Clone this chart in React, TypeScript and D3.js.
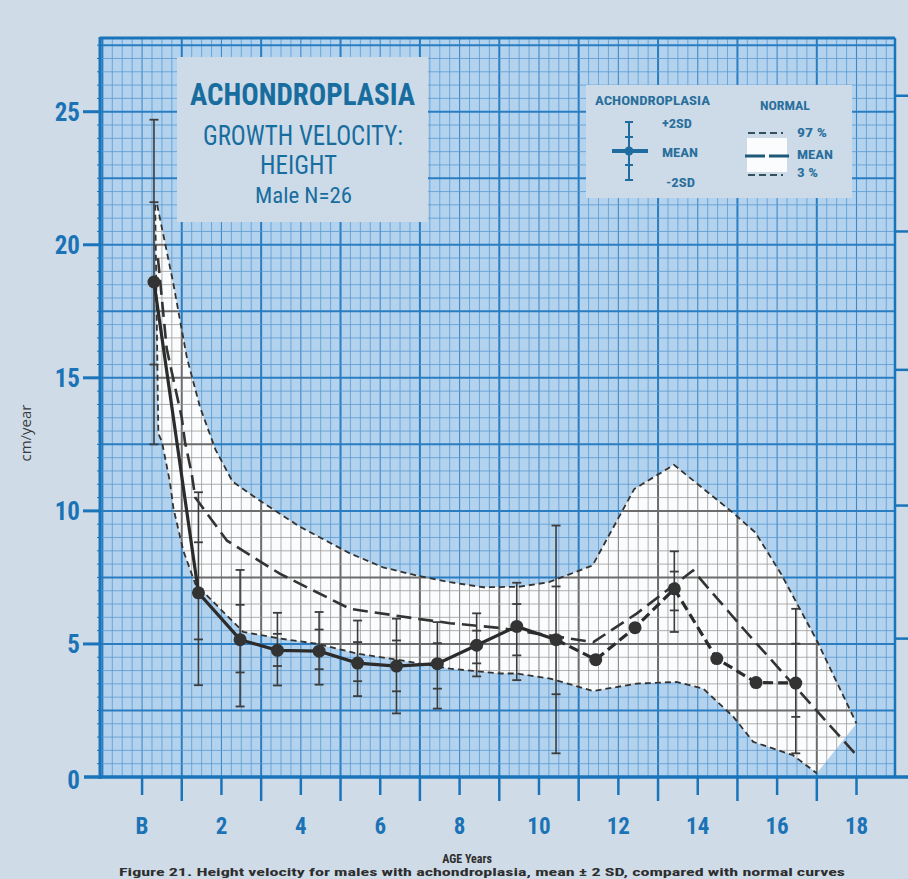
import React from "react";
import * as d3 from "d3";

const W = 908;
const H = 879;

// Achondroplasia (male) growth velocity, cm/year
const achAges = [0.3, 1.42, 2.47, 3.41, 4.46, 5.43, 6.41, 7.44, 8.43, 9.44, 10.43, 11.43, 12.42, 13.41, 14.48, 15.47, 16.47];
const achMean = [18.6, 6.92, 5.16, 4.76, 4.73, 4.28, 4.17, 4.26, 4.95, 5.66, 5.16, 4.41, 5.61, 7.07, 4.45, 3.55, 3.53];
const achPlus2 = [24.7, 10.7, 7.78, 6.17, 6.2, 5.88, 5.95, 5.82, 6.15, 7.3, 9.45, null, null, 8.48, null, null, 6.32];
const achPlus1 = [21.6, 8.82, 6.47, 5.38, 5.54, 5.07, 5.13, 5.03, 5.5, 6.5, 7.16, null, null, 7.72, null, null, 5.01];
const achMinus1 = [15.5, 5.17, 3.93, 4.17, 4.05, 3.6, 3.22, 3.32, 4.27, 4.57, 3.11, null, null, 6.26, null, null, 2.26];
const achMinus2 = [12.5, 3.45, 2.65, 3.44, 3.47, 3.04, 2.39, 2.57, 3.78, 3.64, 0.89, null, null, 5.45, null, null, 0.89];
const solidUntil = 10; // index where the mean line switches to dashed

// Normal curves
const p97Ages = [0.38, 0.78, 1.13, 1.46, 1.85, 2.28, 2.97, 3.98, 5.24, 6.07, 6.92, 7.76, 8.6, 9.5, 10.25, 11.35, 12.4, 13.4, 14.88, 15.45, 16.1, 17.0, 18.0];
const p97Vals = [21.5, 18.6, 15.75, 13.9, 12.3, 11.1, 10.38, 9.4, 8.4, 7.88, 7.57, 7.32, 7.13, 7.15, 7.32, 7.95, 10.82, 11.73, 9.94, 9.19, 7.63, 5.13, 2.01];
const meanAges = [0.4, 0.62, 1.0, 1.08, 1.25, 1.34, 2.14, 3.48, 5.24, 6.92, 7.76, 9.02, 11.37, 12.46, 13.88, 15.15, 18.0];
const meanVals = [19.5, 16.1, 13.5, 12.6, 11.4, 10.5, 8.88, 7.63, 6.32, 5.95, 5.78, 5.6, 5.07, 6.14, 7.76, 5.57, 0.82];
const p3Ages = [0.33, 0.41, 0.5, 0.7, 0.79, 1.04, 1.34, 2.55, 3.48, 4.4, 5.41, 6.5, 7.76, 9.02, 9.44, 10.28, 11.37, 12.46, 13.47, 14.14, 14.9, 15.4, 16.4, 17.0];
const p3Vals = [21.5, 12.9, 12.6, 11.1, 10.1, 8.5, 7.26, 5.45, 5.2, 5.01, 4.64, 4.39, 4.07, 3.89, 3.89, 3.7, 3.23, 3.51, 3.57, 3.32, 2.26, 1.32, 0.82, 0.14];

// Axis labels
const xTickVals = [0, 2, 4, 6, 8, 10, 12, 14, 16, 18];
const xTickLabels = ["B", "2", "4", "6", "8", "10", "12", "14", "16", "18"];
const yTickVals = [0, 5, 10, 15, 20, 25];
const rightTickVals = [25.6, 20.5, 15.3, 10.2, 5.2];

const BLUE_TXT = "#1b73b6";
const TITLE_TXT = "#186d9f";
const COND = "'Liberation Sans Narrow', 'Roboto Condensed', 'Liberation Sans', Arial, sans-serif";

export default function App() {
  const x = d3.scaleLinear().domain([-1.06, 18.97]).range([100, 895]);
  const y = d3.scaleLinear().domain([0, 27.77]).range([777, 38]);

  const X0 = x(-1.06), X1 = x(18.97), Y0 = y(0), Y1 = y(27.77);

  const xs = d3.range(-1, 18.97, 0.25);
  const ys = d3.range(0.5, 27.6, 0.5);

  const isInt = (v: number) => Math.abs(v - Math.round(v)) < 1e-6;

  const gridLines = (inBand: boolean) => {
    const out: any[] = [];
    xs.forEach((v, i) => {
      let w = 0.8, c = inBand ? "#9a9a9a" : "#5c9bd0";
      if (isInt(v)) {
        const odd = Math.abs(Math.round(v)) % 2 === 1;
        w = odd ? 2 : 1.1;
        c = inBand ? (odd ? "#6c6c6c" : "#858585") : (odd ? "#2a7dc0" : "#3f89c6");
      }
      out.push(<line key={"gx" + i} x1={x(v)} x2={x(v)} y1={Y1} y2={Y0} stroke={c} strokeWidth={w} />);
    });
    ys.forEach((v, i) => {
      const major = Math.abs(v / 2.5 - Math.round(v / 2.5)) < 1e-6;
      const w = major ? 2 : 0.8;
      const c = inBand ? (major ? "#6c6c6c" : "#9a9a9a") : (major ? "#2a7dc0" : "#5c9bd0");
      out.push(<line key={"gy" + i} x1={X0} x2={X1} y1={y(v)} y2={y(v)} stroke={c} strokeWidth={w} />);
    });
    return out;
  };

  const straight = d3.line<[number, number]>().x(d => x(d[0])).y(d => y(d[1]));

  const p97Pts = p97Ages.map((a, i) => [a, p97Vals[i]] as [number, number]);
  const p3Pts = p3Ages.map((a, i) => [a, p3Vals[i]] as [number, number]);
  const meanPts = meanAges.map((a, i) => [a, meanVals[i]] as [number, number]);

  const bandPath =
    (straight(p97Pts) as string) +
    "L" + (straight([...p3Pts].reverse()) as string).slice(1) + "Z";

  const achPts = achAges.map((a, i) => [a, achMean[i]] as [number, number]);
  const solidPts = achPts.slice(0, solidUntil + 1);
  const dashPts = achPts.slice(solidUntil);

  const cap = 4.5;

  return (
    <svg width={W} height={H} style={{ position: "absolute", left: 0, top: 0 }} xmlns="http://www.w3.org/2000/svg">
      <defs>
        <clipPath id="bandClip">
          <path d={bandPath} />
        </clipPath>
        <clipPath id="plotClip">
          <rect x={X0} y={Y1} width={X1 - X0} height={Y0 - Y1} />
        </clipPath>
      </defs>
      <rect x={0} y={0} width={W} height={H} fill="#cfdce8" />
      <rect x={X0} y={Y1} width={X1 - X0} height={Y0 - Y1} fill="#b2d2ee" />
      <g clipPath="url(#plotClip)">{gridLines(false)}</g>

      {/* white normal band */}
      <path d={bandPath} fill="#fbfcfd" />
      <g clipPath="url(#bandClip)">{gridLines(true)}</g>

      {/* title and legend boxes */}
      <rect x={177} y={57} width={251} height={165} fill="#cddbe8" />
      <rect x={586} y={85} width={266} height={113} fill="#cddbe8" />

      {/* frame */}
      <line x1={X0} x2={X0} y1={Y1 - 1} y2={Y0 + 2} stroke="#1a74ba" strokeWidth={3} />
      <line x1={X0} x2={X1} y1={Y1} y2={Y1} stroke="#1a74ba" strokeWidth={3} />
      <line x1={X1} x2={X1} y1={Y1} y2={Y0} stroke="#1a74ba" strokeWidth={2.5} />
      <line x1={84} x2={W} y1={Y0} y2={Y0} stroke="#1a74ba" strokeWidth={3.5} />

      {/* y ticks */}
      {ys.map((v, i) => (
        <line key={"ym" + i} x1={X0 - 3} x2={X0} y1={y(v)} y2={y(v)} stroke="#1a74ba" strokeWidth={1} />
      ))}
      {yTickVals.filter(v => v > 0).map(v => (
        <line key={"yt" + v} x1={83} x2={X0} y1={y(v)} y2={y(v)} stroke="#1a74ba" strokeWidth={3} />
      ))}
      {rightTickVals.map(v => (
        <line key={"rt" + v} x1={X1} x2={W} y1={y(v)} y2={y(v)} stroke="#1a74ba" strokeWidth={2.5} />
      ))}
      {yTickVals.map(v => (
        <text key={"yl" + v} x={80} y={y(v) + (v === 0 ? 12 : 9)} textAnchor="end" fontFamily={COND}
          fontWeight="bold" fontSize={25} fill={BLUE_TXT}>{v}</text>
      ))}

      {/* x ticks */}
      {d3.range(0, 19, 1).map(v => (
        <line key={"xt" + v} x1={x(v)} x2={x(v)} y1={Y0} y2={Y0 + (v % 2 === 1 ? 24 : 18)}
          stroke="#1a74ba" strokeWidth={2.5} />
      ))}
      {xTickVals.map((v, i) => (
        <text key={"xl" + v} x={x(v)} y={834} textAnchor="middle" fontFamily={COND}
          fontWeight="bold" fontSize={23} fill={BLUE_TXT}>{xTickLabels[i]}</text>
      ))}

      {/* normal curves */}
      <path d={straight(p97Pts) as string} fill="none" stroke="#333" strokeWidth={1.8} strokeDasharray="6,4" />
      <path d={straight(p3Pts) as string} fill="none" stroke="#333" strokeWidth={1.8} strokeDasharray="6,4" />
      <path d={straight(meanPts) as string} fill="none" stroke="#333" strokeWidth={2.6} strokeDasharray="15,7" />

      {/* error bars */}
      {achAges.map((a, i) => {
        if (achPlus2[i] == null) return null;
        const cx = x(a);
        const ticks = [achPlus2[i], achPlus1[i], achMinus1[i], achMinus2[i]] as number[];
        return (
          <g key={"eb" + i} stroke="#3c3c3c">
            <line x1={cx} x2={cx} y1={y(achPlus2[i] as number)} y2={y(achMinus2[i] as number)} strokeWidth={1.6} />
            {ticks.map((t, k) => (
              <line key={k} x1={cx - cap} x2={cx + cap} y1={y(t)} y2={y(t)} strokeWidth={1.8} />
            ))}
          </g>
        );
      })}

      {/* achondroplasia mean */}
      <path d={straight(solidPts) as string} fill="none" stroke="#2b2b2b" strokeWidth={3.2} />
      <path d={straight(dashPts) as string} fill="none" stroke="#2b2b2b" strokeWidth={3.2} strokeDasharray="10,5" />
      {achPts.map((p, i) => (
        <circle key={"pt" + i} cx={x(p[0])} cy={y(p[1])} r={6.5} fill="#333" />
      ))}

      {/* title */}
      <g fontFamily={COND} fill={TITLE_TXT}>
        <text x={190} y={105} fontSize={31} fontWeight="bold" textLength={225} lengthAdjust="spacingAndGlyphs">ACHONDROPLASIA</text>
        <text x={203} y={145} fontSize={27} textLength={200} lengthAdjust="spacingAndGlyphs">GROWTH VELOCITY:</text>
        <text x={260} y={174} fontSize={26} textLength={77} lengthAdjust="spacingAndGlyphs">HEIGHT</text>
        <text x={255} y={203} fontSize={22} textLength={97} lengthAdjust="spacingAndGlyphs">Male N=26</text>
      </g>

      {/* legend */}
      <g fontFamily={COND} fill="#2a6f9c" fontWeight="bold">
        <text x={595} y={105} fontSize={13} textLength={115} lengthAdjust="spacingAndGlyphs">ACHONDROPLASIA</text>
        <text x={760} y={110} fontSize={13} textLength={50} lengthAdjust="spacingAndGlyphs">NORMAL</text>
        <text x={662} y={128} fontSize={12} textLength={30} lengthAdjust="spacingAndGlyphs">+2SD</text>
        <text x={662} y={157} fontSize={12} textLength={36} lengthAdjust="spacingAndGlyphs">MEAN</text>
        <text x={666} y={187} fontSize={12} textLength={29} lengthAdjust="spacingAndGlyphs">-2SD</text>
        <text x={797} y={137} fontSize={12} textLength={30} lengthAdjust="spacingAndGlyphs">97 %</text>
        <text x={797} y={159} fontSize={12} textLength={36} lengthAdjust="spacingAndGlyphs">MEAN</text>
        <text x={797} y={177} fontSize={12} textLength={21} lengthAdjust="spacingAndGlyphs">3 %</text>
      </g>
      <g stroke="#1f6d9e">
        <line x1={629} x2={629} y1={122} y2={180} strokeWidth={2} />
        {[122, 137, 165, 180].map(t => (
          <line key={t} x1={625} x2={633} y1={t} y2={t} strokeWidth={2} />
        ))}
        <line x1={612} x2={648} y1={151} y2={151} strokeWidth={4} />
      </g>
      <circle cx={629} cy={151} r={4.5} fill="#1f6d9e" />
      <rect x={747} y={138} width={40} height={34} fill="#fbfcfd" />
      <line x1={748} x2={783} y1={133} y2={133} stroke="#33505f" strokeWidth={2} strokeDasharray="7,4" />
      <line x1={745} x2={790} y1={156} y2={156} stroke="#1d5a78" strokeWidth={3} strokeDasharray="20,4" />
      <line x1={748} x2={783} y1={175} y2={175} stroke="#33505f" strokeWidth={2} strokeDasharray="7,4" />

      {/* axis titles */}
      <text transform="translate(31,433) rotate(-90)" textAnchor="middle" fontFamily="'Open Sans', 'DejaVu Sans', sans-serif"
        fontSize={15} fill="#3a3a3a">cm/year</text>
      <text x={467} y={863} textAnchor="middle" fontFamily={COND} fontSize={12} fontWeight="bold" fill="#2e2e2e">AGE   Years</text>
      <text x={119} y={876} fontFamily={COND} fontSize={10} fontWeight="bold" fill="#2e2e2e" textLength={726}
        lengthAdjust="spacingAndGlyphs">Figure 21.   Height velocity for males with achondroplasia, mean ± 2 SD, compared with normal curves</text>
    </svg>
  );
}
